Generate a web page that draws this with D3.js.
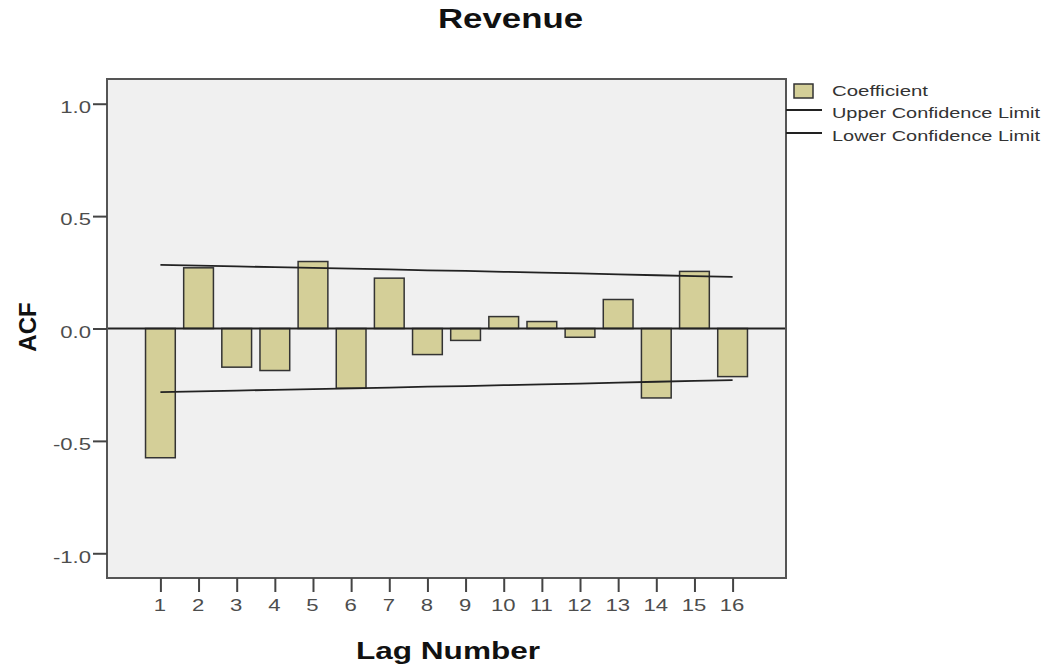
<!DOCTYPE html>
<html>
<head>
<meta charset="utf-8">
<script src="https://cdn.jsdelivr.net/npm/d3@7"></script>
<style>
  html, body { margin: 0; padding: 0; background: #ffffff; }
  svg { display: block; }
  text { font-family: "Liberation Sans", Arial, sans-serif; }
</style>
</head>
<body>
<svg id="chart" width="1045" height="667"></svg>
<script>
// Autocorrelation of Revenue, lags 1..16
const lags = [1, 2, 3, 4, 5, 6, 7, 8, 9, 10, 11, 12, 13, 14, 15, 16];
const coefficient = [-0.575, 0.270, -0.172, -0.187, 0.298, -0.266, 0.224, -0.116,
                     -0.053, 0.053, 0.031, -0.039, 0.129, -0.309, 0.254, -0.214];
const upperLimit = [0.283, 0.280, 0.276, 0.273, 0.270, 0.266, 0.263, 0.259,
                    0.256, 0.252, 0.249, 0.245, 0.241, 0.237, 0.233, 0.230];
const lowerLimit = [-0.283, -0.280, -0.276, -0.273, -0.270, -0.266, -0.263, -0.259,
                    -0.256, -0.252, -0.249, -0.245, -0.241, -0.237, -0.233, -0.230];
const yTicks = [-1.0, -0.5, 0.0, 0.5, 1.0];
const legendItems = ["Coefficient", "Upper Confidence Limit", "Lower Confidence Limit"];

const svg = d3.select("#chart");
const plot = { left: 107, top: 79, right: 786, bottom: 578 };
const STRETCH = 1.38; // horizontal widening of small labels

const x = d3.scaleLinear().domain([-0.4, 17.4]).range([plot.left, plot.right]);
const y = d3.scaleLinear().domain([-1.11, 1.11]).range([plot.bottom, plot.top]);
const step = x(2) - x(1);
const barW = step * 0.78;

const barFill = "#d4cf98";
const ink = "#222";

// plot background
svg.append("rect")
  .attr("x", plot.left).attr("y", plot.top)
  .attr("width", plot.right - plot.left).attr("height", plot.bottom - plot.top)
  .attr("fill", "#f0f0f0");

// bars
const data = lags.map((l, i) => ({ lag: l, v: coefficient[i], up: upperLimit[i], lo: lowerLimit[i] }));
svg.append("g").selectAll("rect").data(data).join("rect")
  .attr("x", d => x(d.lag) - barW / 2)
  .attr("y", d => y(Math.max(0, d.v)))
  .attr("width", barW)
  .attr("height", d => Math.abs(y(d.v) - y(0)))
  .attr("fill", barFill)
  .attr("stroke", "#333")
  .attr("stroke-width", 1.5);

// zero reference line
svg.append("line")
  .attr("x1", plot.left).attr("x2", plot.right)
  .attr("y1", y(0)).attr("y2", y(0))
  .attr("stroke", ink).attr("stroke-width", 1.8);

// confidence limits
const lineUp = d3.line().x(d => x(d.lag)).y(d => y(d.up));
const lineLo = d3.line().x(d => x(d.lag)).y(d => y(d.lo));
svg.append("path").datum(data).attr("d", lineUp)
  .attr("fill", "none").attr("stroke", ink).attr("stroke-width", 1.8);
svg.append("path").datum(data).attr("d", lineLo)
  .attr("fill", "none").attr("stroke", ink).attr("stroke-width", 1.8);

// frame
svg.append("rect")
  .attr("x", plot.left).attr("y", plot.top)
  .attr("width", plot.right - plot.left).attr("height", plot.bottom - plot.top)
  .attr("fill", "none").attr("stroke", "#555").attr("stroke-width", 2);

// y axis
const yAxis = svg.append("g")
  .attr("transform", `translate(${plot.left},0)`)
  .call(d3.axisLeft(y).tickValues(yTicks).tickFormat(d => d.toFixed(1)).tickSize(14).tickPadding(2));
yAxis.select(".domain").remove();
yAxis.selectAll(".tick line").attr("stroke", "#444").attr("stroke-width", 2);
yAxis.selectAll(".tick text")
  .attr("font-size", 16).attr("fill", "#4d4d4d")
  .attr("x", -16 / STRETCH).attr("dy", "0.55em")
  .attr("transform", `scale(${STRETCH},1)`);

// x axis
const xAxis = svg.append("g")
  .attr("transform", `translate(0,${plot.bottom})`)
  .call(d3.axisBottom(x).tickValues(lags).tickFormat(d3.format("d")).tickSize(14).tickPadding(8));
xAxis.select(".domain").remove();
xAxis.selectAll(".tick line").attr("stroke", "#444").attr("stroke-width", 2);
xAxis.selectAll(".tick text")
  .attr("font-size", 16).attr("fill", "#4d4d4d")
  .attr("transform", `scale(${STRETCH},1)`)
  .attr("x", -1 / STRETCH);

// title
svg.append("text")
  .attr("x", 510.5).attr("y", 28)
  .attr("text-anchor", "middle")
  .attr("font-size", 27).attr("font-weight", "bold").attr("fill", "#111")
  .attr("textLength", 145).attr("lengthAdjust", "spacingAndGlyphs")
  .text("Revenue");

// axis titles
svg.append("text")
  .attr("x", 448).attr("y", 659)
  .attr("text-anchor", "middle")
  .attr("font-size", 24).attr("font-weight", "bold").attr("fill", "#111")
  .attr("textLength", 184).attr("lengthAdjust", "spacingAndGlyphs")
  .text("Lag Number");

svg.append("text")
  .attr("transform", "translate(36,327) rotate(-90)")
  .attr("text-anchor", "middle")
  .attr("font-size", 24).attr("font-weight", "bold").attr("fill", "#111")
  .text("ACF");

// legend
const legend = svg.append("g");
legend.append("rect")
  .attr("x", 794).attr("y", 84).attr("width", 19).attr("height", 14)
  .attr("fill", barFill).attr("stroke", "#333").attr("stroke-width", 1.5);
legend.append("line")
  .attr("x1", plot.right).attr("x2", 822).attr("y1", 110).attr("y2", 110)
  .attr("stroke", ink).attr("stroke-width", 1.8);
legend.append("line")
  .attr("x1", plot.right).attr("x2", 822).attr("y1", 133).attr("y2", 133)
  .attr("stroke", ink).attr("stroke-width", 1.8);
const legendY = [96, 118, 141];
const legendW = [96, 208, 208];
legend.selectAll("text.lg").data(legendItems).join("text")
  .attr("class", "lg")
  .attr("x", 832).attr("y", (d, i) => legendY[i])
  .attr("font-size", 14).attr("fill", "#333")
  .attr("textLength", (d, i) => legendW[i]).attr("lengthAdjust", "spacingAndGlyphs")
  .text(d => d);
</script>
</body>
</html>
